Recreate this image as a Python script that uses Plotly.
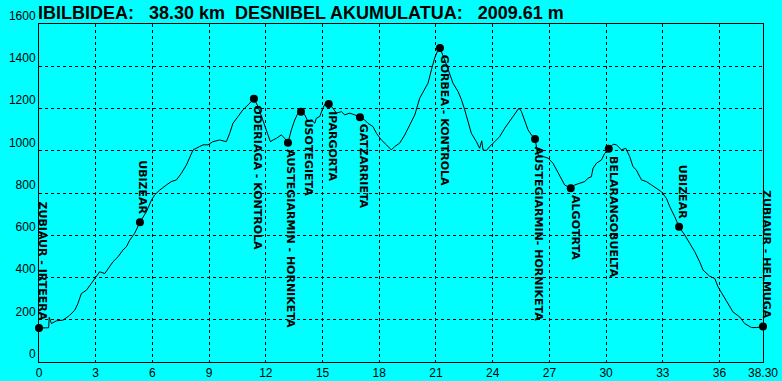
import plotly.graph_objects as go

# ---- profile data (km, elevation m) ----
dist_km = [0.00, 0.51, 0.54, 0.66, 0.92, 1.27, 1.62, 1.89, 2.06, 2.24, 2.51, 2.77, 3.04, 3.21, 3.48,
           3.65, 3.91, 4.18, 4.44, 4.62, 4.80, 5.06, 5.34, 5.68, 5.95, 6.12, 6.39, 6.74, 7.00, 7.27,
           7.53, 7.80, 7.97, 8.15, 8.50, 8.68, 8.94, 9.20, 9.56, 9.91, 10.09, 10.26, 10.53, 10.79,
           11.06, 11.37, 11.59, 11.77, 11.94, 12.11, 12.24, 12.38, 12.56, 12.82, 13.00, 13.17, 13.35,
           13.53, 13.70, 13.86, 14.06, 14.23, 14.41, 14.59, 14.67, 14.85, 15.02, 15.20, 15.33, 15.55,
           15.73, 16.00, 16.17, 16.44, 16.70, 16.98, 17.23, 17.40, 17.67, 17.85, 18.11, 18.38, 18.64,
           18.82, 19.08, 19.35, 19.61, 19.88, 20.14, 20.40, 20.58, 20.76, 20.93, 21.11, 21.21, 21.46,
           21.64, 21.90, 22.17, 22.35, 22.52, 22.70, 22.87, 23.14, 23.31, 23.42, 23.49, 23.67, 23.84,
           24.11, 24.37, 24.64, 24.90, 25.16, 25.39, 25.52, 25.69, 25.87, 26.05, 26.24, 26.40, 26.66,
           26.93, 27.19, 27.37, 27.55, 27.81, 28.13, 28.34, 28.60, 28.87, 29.04, 29.22, 29.31, 29.49,
           29.75, 29.93, 30.14, 30.37, 30.55, 30.81, 31.04, 31.25, 31.42, 31.60, 31.87, 32.13, 32.40,
           32.66, 32.93, 33.19, 33.37, 33.63, 33.86, 34.16, 34.42, 34.69, 34.95, 35.13, 35.48, 35.75,
           35.92, 36.18, 36.45, 36.71, 37.07, 37.33, 37.69, 37.95, 38.30]
elev_m = [161, 162, 211, 182, 195, 198, 221, 245, 277, 324, 340, 372, 409, 427, 419,
          443, 474, 498, 530, 545, 577, 609, 662, 711, 767, 791, 814, 838, 854, 862,
          893, 933, 972, 1004, 1020, 1028, 1028, 1043, 1051, 1043, 1083, 1130, 1162, 1194,
          1217, 1246, 1209, 1162, 1114, 1075, 1043, 1051, 1059, 1075, 1059, 1038, 1099,
          1146, 1178, 1185, 1170, 1138, 1146, 1130, 1154, 1162, 1202, 1233, 1221, 1202,
          1178, 1185, 1170, 1178, 1170, 1159, 1146, 1130, 1114, 1083, 1051, 1028, 1004,
          1020, 1036, 1075, 1122, 1170, 1249, 1288, 1320, 1383, 1439, 1478, 1486, 1431,
          1383, 1320, 1280, 1241, 1194, 1130, 1083, 1043, 1012, 1047, 1004, 1001, 1020,
          1043, 1067, 1107, 1138, 1170, 1202, 1186, 1138, 1099, 1075, 1056, 980, 972,
          965, 941, 909, 877, 838, 822, 838, 846, 854, 870, 877, 917, 941,
          956, 988, 1009, 1031, 1028, 1004, 1012, 972, 925, 909, 862, 854, 838,
          822, 806, 775, 735, 688, 640, 601, 561, 522, 474, 435, 406, 395,
          356, 316, 277, 237, 213, 182, 163, 163, 168]

# ---- waypoints ----
wp_names = ["ZUBIAUR - IRTEERA", "UBIZEAR", "ODERIAGA - KONTROLA", "AUSTEGIARMIN - HORNIKETA",
            "USOTEGIETA", "IPARGORTA", "GATZARRIETA", "GORBEA - KONTROLA",
            "AUSTEGIARMIN- HORNIKETA", "ALGOTRTA", "BELARANGOBUELTA", "UBIZEAR", "ZUBIAUR - HELMUGA"]
wp_km = [0.00, 5.34, 11.37, 13.17, 13.86, 15.33, 16.98, 21.21, 26.24, 28.13, 30.14, 33.86, 38.30]
wp_elev = [161, 662, 1246, 1038, 1185, 1221, 1159, 1486, 1056, 822, 1009, 640, 168]
wp_side = ["above", "above", "below", "below", "below", "below", "below", "below",
           "below", "below", "below", "above", "above"]

# ---- axis ticks ----
x_tickvals = [0, 3, 6, 9, 12, 15, 18, 21, 24, 27, 30, 33, 36, 38.30]
x_ticktext = ["0", "3", "6", "9", "12", "15", "18", "21", "24", "27", "30", "33", "36", "38.30"]
y_tickvals = [0, 200, 400, 600, 800, 1000, 1200, 1400, 1600]

title_text = "IBILBIDEA:\u00a0\u00a0\u00a038.30 km\u00a0\u00a0DESNIBEL AKUMULATUA:\u00a0\u00a0\u00a02009.61 m"

BG = "#00FFFF"
FONT = "Liberation Sans, Arial, sans-serif"
LABEL_FONT = "DejaVu Sans, sans-serif"

fig = go.Figure()
fig.add_trace(go.Scatter(x=dist_km, y=elev_m, mode="lines",
                         line=dict(color="black", width=1), hoverinfo="skip"))
fig.add_trace(go.Scatter(x=wp_km, y=wp_elev, mode="markers", cliponaxis=False,
                         marker=dict(color="black", size=8), hoverinfo="skip"))

x_shifts = [4, 3, 4, 3, 7, 4, 3, 4, 4, 4, 4, 3, 4]
for name, k, e, side, xs in zip(wp_names, wp_km, wp_elev, wp_side, x_shifts):
    fig.add_annotation(x=k, y=e, text=f"<b>{name}</b>", showarrow=False, textangle=90,
                       xanchor="center", yanchor="bottom" if side == "above" else "top",
                       yshift=6 if side == "above" else -5, xshift=xs,
                       font=dict(family=LABEL_FONT, size=11, color="black"))

# title as a paper-anchored annotation
fig.add_annotation(x=0, y=1, xref="paper", yref="paper", xanchor="left", yanchor="bottom",
                   text=f"<b>{title_text}</b>", showarrow=False, xshift=-3, yshift=-1,
                   font=dict(family=FONT, size=18, color="black"))

grid_dash = "3px,3px"
fig.update_layout(
    width=782, height=381,
    margin=dict(l=39, r=19, t=24, b=19, autoexpand=False),
    paper_bgcolor=BG, plot_bgcolor=BG,
    showlegend=False,
    font=dict(family=FONT, size=12, color="black"),
    xaxis=dict(range=[0, 38.30], tickvals=x_tickvals, ticktext=x_ticktext, automargin=False,
               showgrid=True, gridcolor="black", gridwidth=1, griddash=grid_dash,
               zeroline=False, showline=True, linecolor="black", linewidth=1, mirror=True,
               ticks="", tickfont=dict(family=FONT, size=12, color="black")),
    yaxis=dict(range=[0, 1600], tickvals=y_tickvals, automargin=False,
               showgrid=True, gridcolor="black", gridwidth=1, griddash=grid_dash,
               zeroline=False, showline=True, linecolor="black", linewidth=1, mirror=True,
               ticks="", ticklabelposition="outside top",
               tickfont=dict(family=FONT, size=12, color="black")),
)

fig.write_html("out.html", config={"displayModeBar": False},
               post_script="document.body.style.margin='0';document.body.style.overflow='hidden';"
                           "document.body.style.background='#00FFFF';")
